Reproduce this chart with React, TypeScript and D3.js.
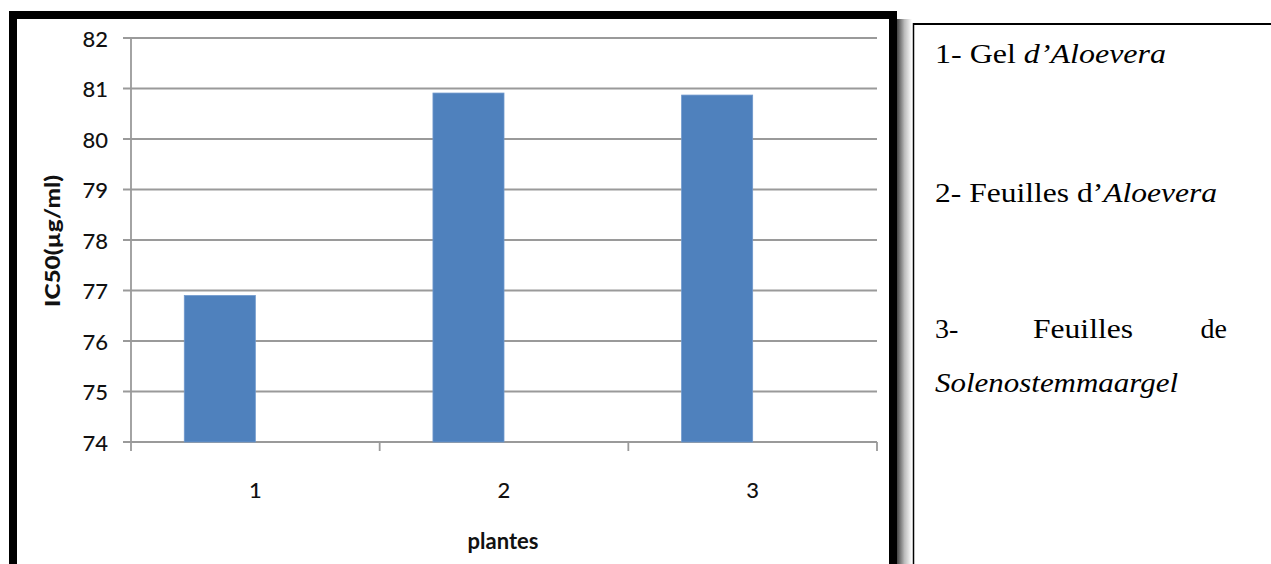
import React from "react";
import * as d3 from "d3";

// Plant extracts and their IC50 values (µg/ml)
const categories: string[] = ["1", "2", "3"];
const ic50Values: number[] = [76.9, 80.91, 80.87];
const yTicks: number[] = [74, 75, 76, 77, 78, 79, 80, 81, 82];
const yDomain: [number, number] = [74, 82];

const W = 1271;
const H = 564;

// Excel-style clustered column: 2 series slots with a 150% gap
const SERIES_SLOTS = 2;
const GAP_RATIO = 1.5;

export default function App() {
  const plotLeft = 131;
  const plotRight = 877;
  const plotTop = 38;
  const plotBottom = 442;

  const x = d3.scaleBand<string>().domain(categories).range([plotLeft, plotRight]).padding(0);
  const y = d3.scaleLinear().domain(yDomain).range([plotBottom, plotTop]);
  const barW = x.bandwidth() / (SERIES_SLOTS + GAP_RATIO);
  const center = (c: string) => (x(c) as number) + x.bandwidth() / 2;

  const boundaries = [...categories.map((c) => x(c) as number), plotRight];
  const grid = "#9a9a9a";
  const sans = "Lato, 'Open Sans', sans-serif";
  const serif = "'Liberation Serif', 'Times New Roman', serif";

  return (
    <svg width={W} height={H} style={{ position: "absolute", left: 0, top: 0, background: "#fff" }}>
      <defs>
        <linearGradient id="frameShadow" x1="0" x2="1" y1="0" y2="0">
          <stop offset="0" stopColor="#444" />
          <stop offset="0.5" stopColor="#bbb" />
          <stop offset="1" stopColor="#fff" />
        </linearGradient>
      </defs>
      <rect x={0} y={0} width={W} height={H} fill="#fff" />

      {/* chart frame */}
      <rect x={897} y={19} width={15} height={H} fill="url(#frameShadow)" />
      <rect x={13} y={15} width={880} height={H + 40} fill="#fff" stroke="#000" strokeWidth={8} />

      {/* gridlines */}
      {yTicks.map((t) => (
        <line key={"g" + t} x1={plotLeft - 8} x2={plotRight} y1={y(t)} y2={y(t)} stroke={grid} strokeWidth={1.8} />
      ))}
      {/* y axis */}
      <line x1={plotLeft} x2={plotLeft} y1={plotTop} y2={plotBottom} stroke={grid} strokeWidth={1.8} />
      {/* x-axis category boundary ticks */}
      {boundaries.map((b, i) => (
        <line key={"xt" + i} x1={b} x2={b} y1={plotBottom} y2={plotBottom + 9} stroke={grid} strokeWidth={1.8} />
      ))}

      {/* bars */}
      {categories.map((c, i) => (
        <rect
          key={"b" + c}
          x={center(c) - barW}
          y={y(ic50Values[i])}
          width={barW}
          height={plotBottom - y(ic50Values[i])}
          fill="#4F81BD"
          stroke="#6f98cc"
          strokeWidth={0.8}
        />
      ))}

      {/* y tick labels */}
      {yTicks.map((t) => (
        <text
          key={"yl" + t}
          x={108}
          y={y(t)}
          textAnchor="end"
          dominantBaseline="central"
          fontFamily={sans}
          fontWeight={500}
          fontSize={22}
          fill="#111"
        >
          {t}
        </text>
      ))}

      {/* x tick labels */}
      {categories.map((c) => (
        <text
          key={"xl" + c}
          x={center(c)}
          y={489}
          textAnchor="middle"
          dominantBaseline="central"
          fontFamily={sans}
          fontWeight={500}
          fontSize={22}
          fill="#111"
        >
          {c}
        </text>
      ))}

      {/* axis titles */}
      <text
        x={503}
        y={540}
        textAnchor="middle"
        dominantBaseline="central"
        fontFamily={sans}
        fontWeight="bold"
        fontSize={22}
        fill="#111"
      >
        plantes
      </text>
      <text
        transform="translate(51,241) rotate(-90)"
        textAnchor="middle"
        dominantBaseline="central"
        fontFamily={sans}
        fontWeight={900}
        fontSize={21}
        fill="#111"
        textLength={132}
        lengthAdjust="spacingAndGlyphs"
      >
        IC50(µg/ml)
      </text>

      {/* key box */}
      <line x1={913} x2={W} y1={24} y2={24} stroke="#000" strokeWidth={2} />
      <line x1={913.5} x2={913.5} y1={23} y2={H} stroke="#000" strokeWidth={1.5} />

      <text x={935} y={63} fontFamily={serif} fontSize={28} fill="#000" textLength={231} lengthAdjust="spacingAndGlyphs">
        1-  Gel <tspan fontStyle="italic">d’Aloevera</tspan>
      </text>
      <text x={935} y={202} fontFamily={serif} fontSize={28} fill="#000" textLength={282} lengthAdjust="spacingAndGlyphs">
        2- Feuilles d’<tspan fontStyle="italic">Aloevera</tspan>
      </text>
      <text x={935} y={338} fontFamily={serif} fontSize={28} fill="#000">
        3-
      </text>
      <text x={1033} y={338} fontFamily={serif} fontSize={28} fill="#000" textLength={100} lengthAdjust="spacingAndGlyphs">
        Feuilles
      </text>
      <text x={1227} y={338} textAnchor="end" fontFamily={serif} fontSize={28} fill="#000">
        de
      </text>
      <text
        x={935}
        y={392}
        fontFamily={serif}
        fontStyle="italic"
        fontSize={28}
        fill="#000"
        textLength={243}
        lengthAdjust="spacingAndGlyphs"
      >
        Solenostemmaargel
      </text>
    </svg>
  );
}
